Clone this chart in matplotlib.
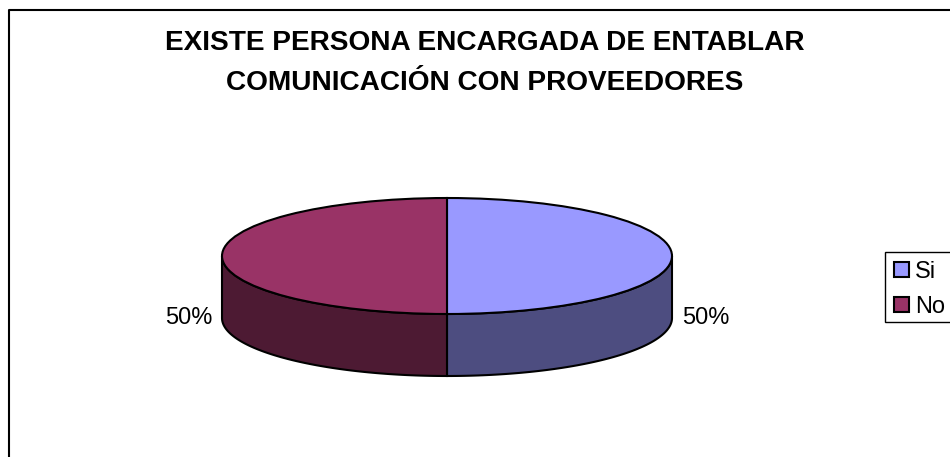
import numpy as np
import matplotlib
matplotlib.use("Agg")
import matplotlib.pyplot as plt

plt.rcParams['font.family'] = ['Liberation Sans', 'DejaVu Sans']

# Chart data
categories = ["Si", "No"]
values = [50, 50]
top_colors = ["#9999FF", "#993366"]
side_colors = ["#4D4D80", "#4D1A33"]
title = "EXISTE PERSONA ENCARGADA DE ENTABLAR\nCOMUNICACIÓN CON PROVEEDORES"

W, H = 950, 457
cx, cy = 447, 256      # pie centre in pixels
rx, ry = 225, 58       # ellipse radii in pixels
depth = 62 / ry        # side height in ellipse units

fig = plt.figure(figsize=(W / 100, H / 100), dpi=100)
ax = fig.add_axes([0, 0, 1, 1])

# Side wall, only the front half of the ellipse is visible
shares = np.array(values) / sum(values) * 360
start = 90
for share, color in zip(shares, side_colors):
    a0, a1 = start - share, start
    start = a0
    a0 = max(a0, -180)
    a1 = min(a1, 0)
    if a1 <= a0:
        a0, a1 = a0 + 360, a1 + 360
        a0, a1 = max(a0, 180), min(a1, 360)
    t = np.radians(np.linspace(a0, a1, 80))
    xs = np.concatenate([np.cos(t), np.cos(t[::-1])])
    ys = np.concatenate([np.sin(t), np.sin(t[::-1]) - depth])
    ax.fill(xs, ys, facecolor=color, edgecolor="black", linewidth=1.5, zorder=1)

# Top of the pie
wedges, _ = ax.pie(values, colors=top_colors, startangle=90, counterclock=False,
                   radius=1, wedgeprops=dict(edgecolor="black", linewidth=1.5, zorder=2))
for w in wedges:
    w.set_zorder(2)

ax.set_aspect("auto")
ax.set_xlim(-cx / rx, (W - cx) / rx)
ax.set_ylim(-(H - cy) / ry, cy / ry)
ax.set_axis_off()

# Text positioned in pixels from top left
def px(x, y):
    return x / W, 1 - y / H

fig.text(*px(485, 63.5), title, ha="center", va="center", fontsize=20.2, fontweight="bold",
         linespacing=1.7, color="black")
fig.text(*px(212, 318), f"{values[1]}%", ha="right", va="center", fontsize=17)
fig.text(*px(682, 318), f"{values[0]}%", ha="left", va="center", fontsize=17)

# Chart frame, runs off the right and bottom of the image
fig.add_artist(plt.Line2D([px(9, 0)[0], px(9, 0)[0], 1], [0, px(0, 9.5)[1], px(0, 9.5)[1]],
                          color="black", linewidth=1.5))

# Legend, the box is drawn apart so it can sit tighter than the entries
x0, y0 = px(885, 322)
x1, y1 = px(960, 252)
fig.add_artist(plt.Rectangle((x0, y0), x1 - x0, y1 - y0, transform=fig.transFigure,
                             facecolor="white", edgecolor="black", linewidth=1))
leg = ax.legend(wedges, categories, loc="upper left", bbox_to_anchor=px(885, 252),
                bbox_transform=fig.transFigure, fontsize=17, frameon=False,
                borderaxespad=0, borderpad=0.38,
                handlelength=0.64, handleheight=0.64, handletextpad=0.26, labelspacing=0.54)
leg.set_zorder(5)
fig.add_artist(leg)

fig.savefig("out.png", dpi=100)
